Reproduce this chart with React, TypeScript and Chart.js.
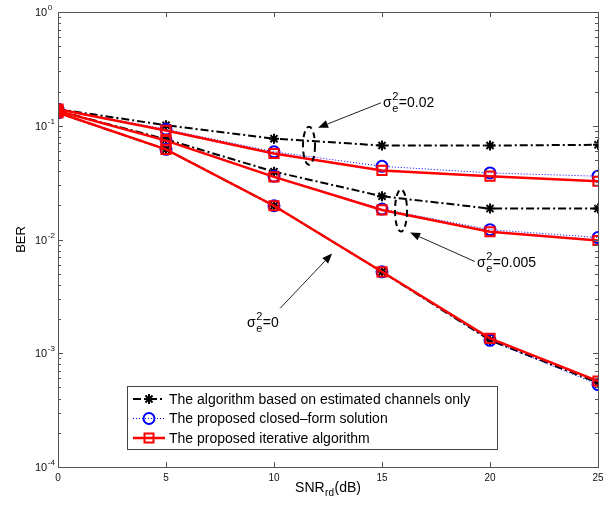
import React, { useEffect, useRef } from 'react';
import { Chart, registerables } from 'chart.js';
Chart.register(...registerables);

const SNR = [0, 5, 10, 15, 20, 25];
// The algorithm based on estimated channels only (black)
const EST_002 = [0.14, 0.101, 0.077, 0.067, 0.067, 0.068];
const EST_0005 = [0.135, 0.076, 0.0395, 0.024, 0.0187, 0.0187];
const EST_0 = [0.13, 0.062, 0.0198, 0.0052, 0.0013, 0.00055];
// The proposed closed-form solution (blue)
const CF_002 = [0.14, 0.093, 0.059, 0.044, 0.0385, 0.036];
const CF_0005 = [0.135, 0.075, 0.036, 0.0185, 0.0122, 0.0104];
const CF_0 = [0.13, 0.062, 0.0198, 0.0052, 0.0013, 0.00053];
// The proposed iterative algorithm (red)
const IT_002 = [0.14, 0.091, 0.057, 0.0405, 0.036, 0.0325];
const IT_0005 = [0.135, 0.074, 0.0355, 0.0182, 0.0117, 0.0098];
const IT_0 = [0.13, 0.062, 0.0198, 0.0052, 0.00135, 0.00057];

const X_TICKS = [0, 5, 10, 15, 20, 25];
const Y_EXPONENTS = [0, -1, -2, -3, -4];
const LEGEND_LABELS = [
  'The algorithm based on estimated channels only',
  'The proposed closed\u2013form solution',
  'The proposed iterative algorithm',
];
const X_TITLE = ['SNR', 'rd', '(dB)'];
const Y_TITLE = 'BER';
// annotations in data coordinates
const ANNOTATIONS = [
  { label: '=0.02', text: [15.05, 0.147], tail: [14.95, 0.159], head: [12.04, 0.096], ellipse: [11.62, 0.0668, 6, 19] },
  { label: '=0.005', text: [19.4, 0.00568], tail: [19.3, 0.0064], head: [16.3, 0.0115], ellipse: [15.88, 0.01795, 6, 21] },
  { label: '=0', text: [8.75, 0.00169], tail: [10.28, 0.00248], head: [12.69, 0.00754], ellipse: null },
];

const FONT = '"Liberation Sans", Arial, Helvetica, sans-serif';
const BLACK = '#000000';
const BLUE = '#0000ff';
const RED = '#ff0000';

const pts = (arr: number[]) => SNR.map((x, i) => ({ x, y: arr[i] }));

const blackStyle = {
  borderColor: BLACK, backgroundColor: 'transparent', borderWidth: 2, borderDash: [8, 3, 2, 3],
  pointStyle: 'star', pointRadius: 5, pointBorderWidth: 2, pointBorderColor: BLACK, order: 2,
};
const blueStyle = {
  borderColor: BLUE, backgroundColor: 'transparent', borderWidth: 1, borderDash: [1, 2],
  pointStyle: 'circle', pointRadius: 5.5, pointBorderWidth: 2, pointBorderColor: BLUE, order: 1,
};
const redStyle = {
  borderColor: RED, backgroundColor: 'transparent', borderWidth: 2.5,
  pointStyle: 'rect', pointRadius: 6.5, pointBorderWidth: 2, pointBorderColor: RED, order: 0,
};

function drawMarker(ctx: CanvasRenderingContext2D, kind: string, x: number, y: number) {
  ctx.save();
  ctx.setLineDash([]);
  if (kind === 'star') {
    ctx.strokeStyle = BLACK; ctx.lineWidth = 2;
    const r = 5;
    ctx.beginPath();
    for (let k = 0; k < 4; k++) {
      const a = (k * Math.PI) / 4;
      ctx.moveTo(x - r * Math.cos(a), y - r * Math.sin(a));
      ctx.lineTo(x + r * Math.cos(a), y + r * Math.sin(a));
    }
    ctx.stroke();
  } else if (kind === 'circle') {
    ctx.strokeStyle = BLUE; ctx.lineWidth = 2;
    ctx.beginPath(); ctx.arc(x, y, 5.5, 0, Math.PI * 2); ctx.stroke();
  } else {
    ctx.strokeStyle = RED; ctx.lineWidth = 2;
    ctx.strokeRect(x - 4.5, y - 4.5, 9, 9);
  }
  ctx.restore();
}

function drawSigma(ctx: CanvasRenderingContext2D, x: number, y: number, rest: string) {
  ctx.fillStyle = BLACK;
  ctx.textAlign = 'left';
  ctx.textBaseline = 'alphabetic';
  ctx.font = `14px ${FONT}`;
  ctx.fillText('\u03c3', x, y);
  const w = ctx.measureText('\u03c3').width;
  ctx.font = `11px ${FONT}`;
  ctx.fillText('2', x + w + 0.5, y - 7);
  ctx.fillText('e', x + w + 0.5, y + 5);
  const w2 = Math.max(ctx.measureText('2').width, ctx.measureText('e').width);
  ctx.font = `14px ${FONT}`;
  ctx.fillText(rest, x + w + w2 + 1, y);
}

const decor = {
  id: 'decor',
  afterDraw(chart: any) {
    const ctx: CanvasRenderingContext2D = chart.ctx;
    const { left, right, top, bottom } = chart.chartArea;
    const xs = chart.scales.x;
    const ys = chart.scales.y;
    ctx.save();
    // annotations
    ANNOTATIONS.forEach((a) => {
      if (a.ellipse) {
        const [ex, ey, rx, ry] = a.ellipse;
        ctx.save();
        ctx.strokeStyle = BLACK; ctx.lineWidth = 2; ctx.setLineDash([6, 4]);
        ctx.beginPath();
        ctx.ellipse(xs.getPixelForValue(ex), ys.getPixelForValue(ey), rx, ry, 0, 0, Math.PI * 2);
        ctx.stroke();
        ctx.restore();
      }
      const tx = xs.getPixelForValue(a.tail[0]);
      const ty = ys.getPixelForValue(a.tail[1]);
      const hx = xs.getPixelForValue(a.head[0]);
      const hy = ys.getPixelForValue(a.head[1]);
      const ang = Math.atan2(hy - ty, hx - tx);
      const L = 10, W = 4;
      const bx = hx - L * Math.cos(ang), by = hy - L * Math.sin(ang);
      ctx.strokeStyle = '#222'; ctx.lineWidth = 1; ctx.setLineDash([]);
      ctx.beginPath(); ctx.moveTo(tx, ty); ctx.lineTo(bx, by); ctx.stroke();
      ctx.fillStyle = BLACK;
      ctx.beginPath();
      ctx.moveTo(hx, hy);
      ctx.lineTo(bx + W * Math.sin(ang), by - W * Math.cos(ang));
      ctx.lineTo(bx - W * Math.sin(ang), by + W * Math.cos(ang));
      ctx.closePath(); ctx.fill();
      drawSigma(ctx, xs.getPixelForValue(a.text[0]), ys.getPixelForValue(a.text[1]), a.label);
    });

    // axes box
    ctx.strokeStyle = '#555'; ctx.lineWidth = 1; ctx.setLineDash([]);
    ctx.strokeRect(Math.round(left) + 0.5, Math.round(top) + 0.5, Math.round(right - left), Math.round(bottom - top));
    // x ticks
    ctx.beginPath();
    X_TICKS.forEach((v) => {
      const px = Math.round(xs.getPixelForValue(v)) + 0.5;
      ctx.moveTo(px, bottom); ctx.lineTo(px, bottom - 5);
      ctx.moveTo(px, top); ctx.lineTo(px, top + 5);
    });
    // y ticks
    Y_EXPONENTS.forEach((e) => {
      const py = Math.round(ys.getPixelForValue(Math.pow(10, e))) + 0.5;
      ctx.moveTo(left, py); ctx.lineTo(left + 5, py);
      ctx.moveTo(right, py); ctx.lineTo(right - 5, py);
      if (e > -4) {
        for (let m = 2; m <= 9; m++) {
          const pm = Math.round(ys.getPixelForValue(m * Math.pow(10, e - 1))) + 0.5;
          ctx.moveTo(left, pm); ctx.lineTo(left + 3, pm);
          ctx.moveTo(right, pm); ctx.lineTo(right - 3, pm);
        }
      }
    });
    ctx.stroke();

    // tick labels
    ctx.fillStyle = '#111';
    ctx.font = `10px ${FONT}`;
    ctx.textAlign = 'center'; ctx.textBaseline = 'middle';
    X_TICKS.forEach((v) => ctx.fillText(String(v), xs.getPixelForValue(v), bottom + 11));
    Y_EXPONENTS.forEach((e) => {
      const py = ys.getPixelForValue(Math.pow(10, e));
      ctx.textAlign = 'left';
      ctx.font = `11px ${FONT}`;
      ctx.fillText('10', left - 23, py + 1);
      const w = ctx.measureText('10').width;
      ctx.font = `8px ${FONT}`;
      ctx.fillText(String(e), left - 23 + w + 0.5, py - 4);
    });

    // axis titles
    ctx.fillStyle = BLACK;
    ctx.textBaseline = 'alphabetic';
    ctx.font = `14px ${FONT}`;
    const w1 = ctx.measureText(X_TITLE[0]).width;
    const w3 = ctx.measureText(X_TITLE[2]).width;
    ctx.font = `10px ${FONT}`;
    const w2 = ctx.measureText(X_TITLE[1]).width;
    const total = w1 + w2 + w3 + 1;
    let sx = (left + right) / 2 - total / 2;
    const by = bottom + 25;
    ctx.textAlign = 'left';
    ctx.font = `14px ${FONT}`;
    ctx.fillText(X_TITLE[0], sx, by);
    ctx.font = `10px ${FONT}`;
    ctx.fillText(X_TITLE[1], sx + w1 + 0.5, by + 4);
    ctx.font = `14px ${FONT}`;
    ctx.fillText(X_TITLE[2], sx + w1 + w2 + 1, by);

    ctx.save();
    ctx.translate(left - 37, (top + bottom) / 2);
    ctx.rotate(-Math.PI / 2);
    ctx.textAlign = 'center'; ctx.textBaseline = 'middle';
    ctx.font = `13px ${FONT}`;
    ctx.fillText(Y_TITLE, 0, 0);
    ctx.restore();

    // legend
    const lx = 127, ly = 386, lw = 370, lh = 63;
    ctx.fillStyle = '#fff';
    ctx.fillRect(lx, ly, lw, lh);
    ctx.strokeStyle = '#444'; ctx.lineWidth = 1;
    ctx.strokeRect(lx + 0.5, ly + 0.5, lw, lh);
    const kinds = ['star', 'circle', 'rect'];
    const styles: any[] = [blackStyle, blueStyle, redStyle];
    LEGEND_LABELS.forEach((lab, i) => {
      const cy = ly + 13 + i * 19.5;
      const st = styles[i];
      ctx.save();
      ctx.strokeStyle = st.borderColor; ctx.lineWidth = st.borderWidth;
      ctx.setLineDash(st.borderDash || []);
      ctx.beginPath(); ctx.moveTo(lx + 6, cy); ctx.lineTo(lx + 38, cy); ctx.stroke();
      ctx.restore();
      drawMarker(ctx, kinds[i], lx + 22, cy);
      ctx.fillStyle = BLACK;
      ctx.font = `14px ${FONT}`;
      ctx.textAlign = 'left'; ctx.textBaseline = 'middle';
      ctx.fillText(lab, lx + 42, cy + 1);
    });
    ctx.restore();
  },
};

export default function App() {
  const ref = useRef<HTMLCanvasElement | null>(null);
  useEffect(() => {
    if (!ref.current) return;
    const chart = new Chart(ref.current, {
      type: 'line',
      data: {
        datasets: [
          { label: LEGEND_LABELS[2], data: pts(IT_002), ...redStyle },
          { label: LEGEND_LABELS[2], data: pts(IT_0005), ...redStyle },
          { label: LEGEND_LABELS[2], data: pts(IT_0), ...redStyle },
          { label: LEGEND_LABELS[1], data: pts(CF_002), ...blueStyle },
          { label: LEGEND_LABELS[1], data: pts(CF_0005), ...blueStyle },
          { label: LEGEND_LABELS[1], data: pts(CF_0), ...blueStyle },
          { label: LEGEND_LABELS[0], data: pts(EST_002), ...blackStyle },
          { label: LEGEND_LABELS[0], data: pts(EST_0005), ...blackStyle },
          { label: LEGEND_LABELS[0], data: pts(EST_0), ...blackStyle },
        ] as any,
      },
      options: {
        animation: false,
        responsive: false,
        devicePixelRatio: 1,
        layout: { padding: { left: 58, top: 12, right: 15, bottom: 39 } },
        plugins: { legend: { display: false }, tooltip: { enabled: false } },
        scales: {
          x: { type: 'linear', min: 0, max: 25, display: false },
          y: { type: 'logarithmic', min: 1e-4, max: 1, display: false },
        },
      } as any,
      plugins: [decor],
    });
    return () => chart.destroy();
  }, []);
  return (
    <div style={{ position: 'fixed', left: 0, top: 0, width: 613, height: 506, background: '#fff' }}>
      <canvas ref={ref} width={613} height={506} />
    </div>
  );
}
